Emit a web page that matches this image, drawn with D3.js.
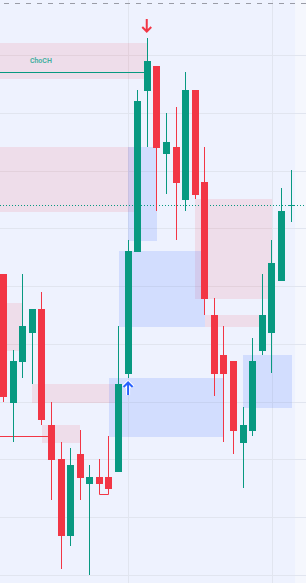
<!DOCTYPE html>
<html lang='en'>
<head>
  <meta charset='utf-8'/>
  <title>Candles with zones</title>
  <script src='https://d3js.org/d3.v7.min.js'></script>
  <style>
    body{margin:0;background:#f5f7fd;overflow:hidden;}
    svg{display:block;}
  </style>
</head>
<body>
<svg id='chart'></svg>
<script>
// Settings
const width = 306, height = 583;

// Candles (bar index = position in arrays)
const opens  = [62.10,39.82,46.92,51.94,56.04,35.96,30.08,16.80,30.94,25.80,26.96,26.96,27.88,44.79,65.90,93.82,98.10,82.92,84.13,74.96,93.94,78.02,55.00,48.08,47.04,32.90,34.98,48.82,51.94,60.94,74.04];
const highs  = [62.10,48.94,62.10,56.04,58.98,39.94,33.02,31.98,35.10,29.04,30.08,34.06,53.10,67.98,93.94,102.94,98.10,89.96,91.00,97.06,93.94,84.13,57.99,53.15,47.04,39.08,51.02,62.10,67.98,76.98,80.10];
const lows   = [39.94,33.07,44.15,43.11,36.01,22.98,11.09,15.07,23.03,10.05,23.97,23.97,27.88,44.10,65.90,84.13,73.05,75.99,68.03,73.05,75.13,55.05,41.03,33.07,30.99,25.11,34.11,48.13,45.01,60.94,71.15];
const closes = [40.81,47.09,53.10,56.04,36.88,29.90,16.80,29.04,26.84,26.96,25.80,24.94,43.06,66.08,92.04,98.96,83.96,84.94,77.90,93.94,75.82,57.82,44.84,44.84,34.98,35.96,47.04,55.00,64.00,73.00,74.04];

// Zones: bar index span and price span
const zoneKind   = ['bear','bear','bear','bear','bear','bear','bear','bull','bull','bull','bull'];
const zoneStart  = [-0.4, -0.4, -0.4, 3.0, 4.0, 20.0, 21.0, 13.0, 12.0, 25.0, 11.0];
const zoneEnd    = [15.0, 13.6, 1.93, 11.63, 8.0, 28.0, 27.4, 16.0, 21.0, 30.1, 23.0];
const zoneTop    = [102.08, 84.13, 57.08, 43.06, 35.96, 75.08, 55.00, 84.13, 66.08, 48.08, 44.10];
const zoneBottom = [95.85, 72.88, 48.77, 39.77, 32.85, 57.82, 52.92, 67.86, 52.92, 38.90, 33.88];

// Structure lines
const chochPrice = 97.06, chochFrom = -0.4, chochTo = 14.66;
const redLinePrice = 34.06, redLineFrom = -0.4, redLineTo = 4.64;
const sweepFrom = 10, sweepTo = 11, sweepPrice = 23.97;
const lastPrice = 74.04;
const topDashPrice = 109.0;

// Signals
const downArrowBar = 15, upArrowBar = 13;

// Grid
const priceTicks = [10,20,30,40,50,60,70,80,90,100];
const barTicks = [13, 28];

const green = '#089981', red = '#f23645';

const x = d3.scaleLinear().domain([0, 30]).range([3.5, 291]);
const y = d3.scaleLinear().domain([10, 100]).range([575, 55]);
const bodyW = 7;

const svg = d3.select('#chart').attr('width', width).attr('height', height);

// plot area background (up to the last bar)
svg.append('rect').attr('x', 0).attr('y', 0)
  .attr('width', x(30.43)).attr('height', height)
  .attr('fill', '#eef2fe');

// grid
svg.append('g').selectAll('line').data(priceTicks).join('line')
  .attr('x1', 0).attr('x2', width)
  .attr('y1', d => Math.round(y(d)) + 0.5).attr('y2', d => Math.round(y(d)) + 0.5)
  .attr('stroke', '#e1e5ef');
svg.append('g').selectAll('line').data(barTicks).join('line')
  .attr('x1', d => Math.round(x(d)) + 0.5).attr('x2', d => Math.round(x(d)) + 0.5)
  .attr('y1', 0).attr('y2', height)
  .attr('stroke', '#e1e5ef');

// zones
const zones = zoneKind.map((k, i) => ({k, s: zoneStart[i], e: zoneEnd[i], t: zoneTop[i], b: zoneBottom[i]}));
svg.append('g').selectAll('rect').data(zones).join('rect')
  .attr('x', d => Math.round(Math.max(0, x(d.s))))
  .attr('width', d => Math.round(x(d.e)) - Math.round(Math.max(0, x(d.s))))
  .attr('y', d => Math.round(y(d.t)))
  .attr('height', d => Math.round(y(d.b)) - Math.round(y(d.t)))
  .attr('fill', d => d.k === 'bear' ? 'rgba(242,54,69,0.11)' : 'rgba(41,98,255,0.14)');

// top dashed line
svg.append('line')
  .attr('x1', 4).attr('x2', width)
  .attr('y1', Math.round(y(topDashPrice)) + 0.5).attr('y2', Math.round(y(topDashPrice)) + 0.5)
  .attr('stroke', '#9a9ca6').attr('stroke-width', 1).attr('stroke-dasharray', '5,6');

// last price dotted line
svg.append('line')
  .attr('x1', 0).attr('x2', width)
  .attr('y1', Math.round(y(lastPrice)) + 0.5).attr('y2', Math.round(y(lastPrice)) + 0.5)
  .attr('stroke', green).attr('stroke-width', 1).attr('stroke-dasharray', '1,2');

// ChoCH line + label
svg.append('line')
  .attr('x1', Math.max(0, x(chochFrom))).attr('x2', x(chochTo))
  .attr('y1', Math.round(y(chochPrice)) + 0.5).attr('y2', Math.round(y(chochPrice)) + 0.5)
  .attr('stroke', green).attr('stroke-width', 1);
svg.append('text')
  .attr('x', x(3.9)).attr('y', y(chochPrice) - 9)
  .attr('text-anchor', 'middle')
  .attr('font-family', 'Roboto, sans-serif').attr('font-size', 7).attr('font-weight', 600)
  .attr('fill', '#3fae9f')
  .text('ChoCH');

// red level line
svg.append('line')
  .attr('x1', Math.max(0, x(redLineFrom))).attr('x2', x(redLineTo))
  .attr('y1', Math.round(y(redLinePrice)) + 0.5).attr('y2', Math.round(y(redLinePrice)) + 0.5)
  .attr('stroke', red).attr('stroke-width', 1);

// candles
const candles = opens.map((o, i) => ({i, o, h: highs[i], l: lows[i], c: closes[i]}));
const cx = d => Math.round(x(d.i) - 0.5) + 0.5;
const col = d => d.c >= d.o ? green : red;

svg.append('g').selectAll('line').data(candles).join('line')
  .attr('x1', cx).attr('x2', cx)
  .attr('y1', d => Math.round(y(d.h))).attr('y2', d => Math.round(y(d.l)))
  .attr('stroke', col).attr('stroke-width', 1);

// sweep hook between two lows
svg.append('path')
  .attr('d', () => {
    const yy = Math.round(y(sweepPrice)) + 0.5;
    const a = cx({i: sweepFrom}), b = cx({i: sweepTo});
    return `M${a},${yy - 1}L${a},${yy}L${b},${yy}L${b},${yy - 1}`;
  })
  .attr('fill', 'none').attr('stroke', red).attr('stroke-width', 1);

svg.append('g').selectAll('rect').data(candles).join('rect')
  .attr('x', d => Math.round(x(d.i) - bodyW / 2))
  .attr('width', bodyW)
  .attr('y', d => Math.round(y(Math.max(d.o, d.c))))
  .attr('height', d => Math.max(1, Math.round(y(Math.min(d.o, d.c))) - Math.round(y(Math.max(d.o, d.c)))))
  .attr('fill', col);

// signal arrows
function arrow(g, xc, ytip, dir, color) {
  // dir = 1 -> points down, -1 -> points up
  const len = 13;
  const p = `M${xc},${ytip - dir * len}L${xc},${ytip - dir * 1}M${xc - 4.5},${ytip - dir * 5}L${xc},${ytip - dir * 0.5}L${xc + 4.5},${ytip - dir * 5}`;
  if (dir < 0) {
    g.append('path').attr('d', p).attr('fill', 'none').attr('stroke', '#fff').attr('stroke-width', 4).attr('stroke-linejoin', 'round');
  }
  g.append('path').attr('d', p).attr('fill', 'none').attr('stroke', color).attr('stroke-width', 2);
}
const arrows = svg.append('g');
arrow(arrows, x(downArrowBar) - 0.5, y(highs[downArrowBar]) - 6, 1, red);
arrow(arrows, x(upArrowBar), y(lows[upArrowBar]) + 4, -1, '#2962ff');
</script>
</body>
</html>
